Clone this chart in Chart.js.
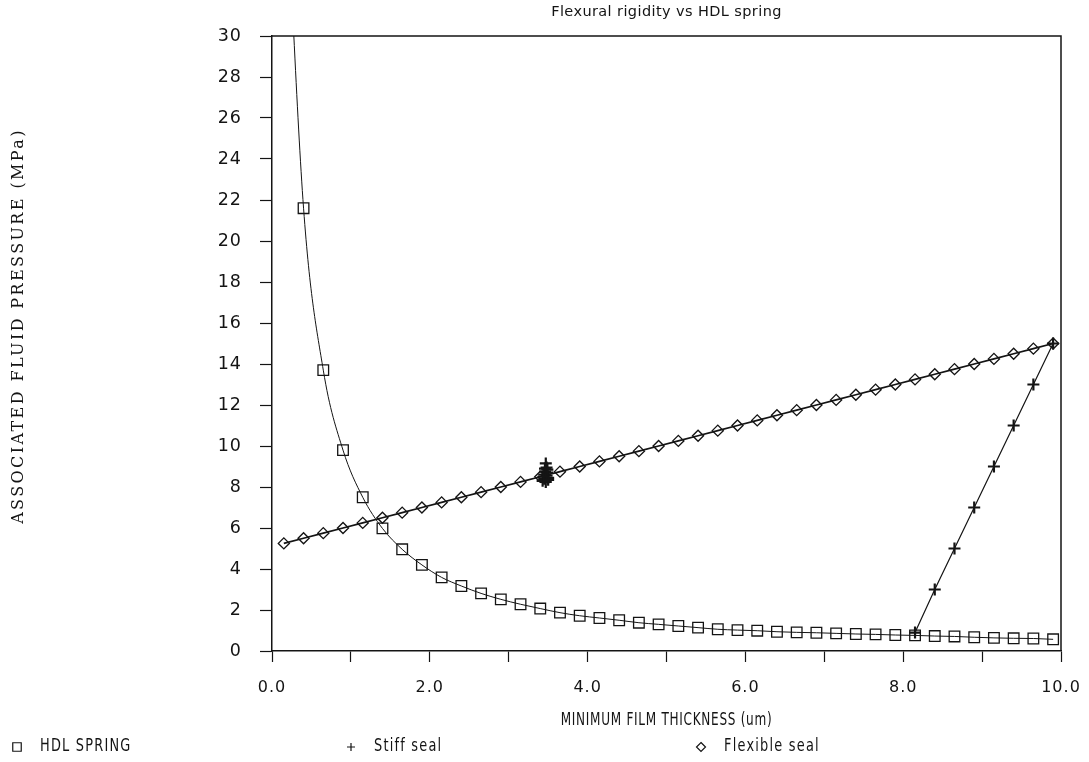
<!DOCTYPE html>
<html><head><meta charset="utf-8">
<script src="https://cdn.jsdelivr.net/npm/chart.js@4.4.1/dist/chart.umd.min.js"></script>
<style>html,body{margin:0;padding:0;background:#fff;}#wrap{width:1089px;height:762px;}</style>
</head><body><div id="wrap"><canvas id="c" width="1089" height="762"></canvas></div>
<script>
const chartTitle = 'Flexural rigidity vs HDL spring';
const xAxisTitle = 'MINIMUM FILM THICKNESS (um)';
const yAxisTitle = 'ASSOCIATED FLUID PRESSURE (MPa)';
const seriesNames = ['HDL SPRING', 'Stiff seal', 'Flexible seal'];

const filmThickness = [0.15, 0.40, 0.65, 0.90, 1.15, 1.40, 1.65, 1.90, 2.15, 2.40,
  2.65, 2.90, 3.15, 3.40, 3.65, 3.90, 4.15, 4.40, 4.65, 4.90,
  5.15, 5.40, 5.65, 5.90, 6.15, 6.40, 6.65, 6.90, 7.15, 7.40,
  7.65, 7.90, 8.15, 8.40, 8.65, 8.90, 9.15, 9.40, 9.65, 9.90];
const hdlSpring = [40.0, 21.6, 13.7, 9.8, 7.5, 5.98, 4.96, 4.20, 3.59, 3.17,
  2.81, 2.52, 2.28, 2.07, 1.87, 1.72, 1.61, 1.50, 1.38, 1.30,
  1.22, 1.14, 1.06, 1.02, 0.99, 0.94, 0.91, 0.89, 0.86, 0.83,
  0.81, 0.78, 0.76, 0.73, 0.71, 0.67, 0.64, 0.62, 0.61, 0.57];
const flexibleSeal = [5.25, 5.50, 5.75, 6.00, 6.25, 6.50, 6.75, 7.00, 7.25, 7.50,
  7.75, 8.00, 8.25, 8.50, 8.75, 9.00, 9.25, 9.50, 9.75, 10.00,
  10.25, 10.50, 10.75, 11.00, 11.25, 11.50, 11.75, 12.00, 12.25, 12.50,
  12.75, 13.00, 13.25, 13.50, 13.75, 14.00, 14.25, 14.50, 14.75, 15.00];
const stiffClusterX = [3.43, 3.45, 3.46, 3.47, 3.48, 3.49, 3.50, 3.47, 3.45, 3.46, 3.48, 3.50, 3.44, 3.49];
const stiffClusterY = [8.30, 8.60, 8.90, 9.15, 8.95, 8.70, 8.45, 8.25, 8.40, 8.75, 8.55, 8.35, 8.50, 8.85];
const stiffSealX = [8.15, 8.40, 8.65, 8.90, 9.15, 9.40, 9.65, 9.90];
const stiffSealY = [0.90, 3.00, 5.00, 7.00, 9.00, 11.00, 13.00, 15.00];

const xTickLabels = ['0.0', '', '2.0', '', '4.0', '', '6.0', '', '8.0', '', '10.0'];
const yTickLabels = ['0','2','4','6','8','10','12','14','16','18','20','22','24','26','28','30'];

const INK = '#141414';

const hdlData = filmThickness.map((x, i) => ({x, y: hdlSpring[i]}));
const flexData = filmThickness.map((x, i) => ({x, y: flexibleSeal[i]}));
const stiffData = stiffClusterX.map((x, i) => ({x, y: stiffClusterY[i]}))
  .concat([{x: 5.0, y: null}])
  .concat(stiffSealX.map((x, i) => ({x, y: stiffSealY[i]})));

function drawMarker(ctx, style, x, y, r) {
  ctx.beginPath();
  if (style === 'rect') {
    const s = r * Math.SQRT1_2;
    ctx.rect(x - s, y - s, 2 * s, 2 * s);
  } else if (style === 'cross') {
    ctx.moveTo(x - r, y); ctx.lineTo(x + r, y);
    ctx.moveTo(x, y - r); ctx.lineTo(x, y + r);
  } else {
    ctx.moveTo(x, y - r); ctx.lineTo(x + r, y); ctx.lineTo(x, y + r); ctx.lineTo(x - r, y); ctx.closePath();
  }
  ctx.stroke();
}

function narrowText(ctx, text, x, y, sx, align) {
  ctx.save();
  ctx.translate(x, y);
  ctx.scale(sx, 1);
  ctx.textAlign = align;
  ctx.fillText(text, 0, 0);
  ctx.restore();
}

const decorPlugin = {
  id: 'decor',
  beforeDraw(chart) {
    chart.ctx.letterSpacing = '1px';
  },
  afterDatasetsDraw(chart) {
    const {ctx, chartArea: a} = chart;
    ctx.save();
    ctx.strokeStyle = INK; ctx.lineWidth = 1.5;
    ctx.beginPath();
    ctx.moveTo(a.left, a.top); ctx.lineTo(a.right, a.top); ctx.lineTo(a.right, a.bottom);
    ctx.stroke();
    ctx.restore();
  },
  afterDraw(chart) {
    const {ctx, chartArea: a} = chart;
    ctx.save();
    ctx.fillStyle = INK;
    ctx.textAlign = 'center'; ctx.textBaseline = 'middle';
    // title
    ctx.letterSpacing = '0.4px';
    ctx.font = '14.5px "DejaVu Sans"';
    ctx.fillText(chartTitle, (a.left + a.right) / 2, 12);
    // x axis title
    ctx.letterSpacing = '1px';
    ctx.font = '17px "DejaVu Sans"';
    narrowText(ctx, xAxisTitle, (a.left + a.right) / 2, 721, 0.71, 'center');
    // y axis title
    ctx.save();
    ctx.translate(19, 326);
    ctx.rotate(-Math.PI / 2);
    ctx.letterSpacing = '2.4px';
    ctx.font = '16px "DejaVu Serif"';
    ctx.fillText(yAxisTitle, 0, 0);
    ctx.restore();
    // legend
    const xs = [17, 351, 701];
    const styles = [['rect', 6], ['cross', 4], ['rectRot', 4.5]];
    ctx.letterSpacing = '1.6px';
    ctx.font = '17px "DejaVu Sans"';
    ctx.strokeStyle = INK; ctx.lineWidth = 1.2;
    chart.data.datasets.forEach((ds, i) => {
      drawMarker(ctx, styles[i][0], xs[i], 747, styles[i][1]);
      narrowText(ctx, ds.label, xs[i] + 23, 747, 0.76, 'left');
    });
    ctx.restore();
  }
};

const tickFont = {family: '"DejaVu Sans"', size: 16};

new Chart(document.getElementById('c'), {
  type: 'line',
  data: {
    datasets: [
      {label: seriesNames[0], data: hdlData, borderColor: INK, borderWidth: 1, clip: 0,
       cubicInterpolationMode: 'monotone', pointStyle: 'rect', pointRadius: 7.5,
       pointBorderWidth: 1.3, pointBorderColor: INK, pointBackgroundColor: 'rgba(0,0,0,0)'},
      {label: seriesNames[1], data: stiffData, borderColor: INK, borderWidth: 1.2, clip: 0,
       pointStyle: 'cross', pointRadius: 6, pointBorderWidth: 2.2, pointBorderColor: INK,
       pointBackgroundColor: INK, spanGaps: false},
      {label: seriesNames[2], data: flexData, borderColor: INK, borderWidth: 1.8, clip: 0,
       pointStyle: 'rectRot', pointRadius: 5.5, pointBorderWidth: 1.4, pointBorderColor: INK,
       pointBackgroundColor: 'rgba(0,0,0,0)'}
    ]
  },
  options: {
    responsive: false, animation: false, devicePixelRatio: 1,
    layout: {padding: {left: 0, top: 36, right: 28, bottom: 31}},
    plugins: {legend: {display: false}, title: {display: false}, tooltip: {enabled: false}},
    elements: {point: {hoverRadius: 0}},
    scales: {
      x: {
        type: 'linear', min: 0, max: 10,
        afterFit(s) { s.height = 80; s.paddingLeft = 0; s.paddingRight = 0; },
        ticks: {stepSize: 1, autoSkip: false, maxRotation: 0, padding: 16, color: INK, font: tickFont,
          callback: (v, i) => xTickLabels[i]},
        grid: {drawOnChartArea: false, drawTicks: true, tickLength: 11, color: INK, tickColor: INK, tickWidth: 1.2},
        border: {display: true, color: INK, width: 1.5}
      },
      y: {
        type: 'linear', min: 0, max: 30,
        afterFit(s) { s.width = 272; s.paddingTop = 0; s.paddingBottom = 0; },
        ticks: {stepSize: 2, autoSkip: false, padding: 18, color: INK, font: {family: '"DejaVu Sans"', size: 17.5},
          callback: (v, i) => yTickLabels[i]},
        grid: {drawOnChartArea: false, drawTicks: true, tickLength: 12, color: INK, tickColor: INK, tickWidth: 1.2},
        border: {display: true, color: INK, width: 1.5}
      }
    }
  },
  plugins: [decorPlugin]
});
</script></body></html>
